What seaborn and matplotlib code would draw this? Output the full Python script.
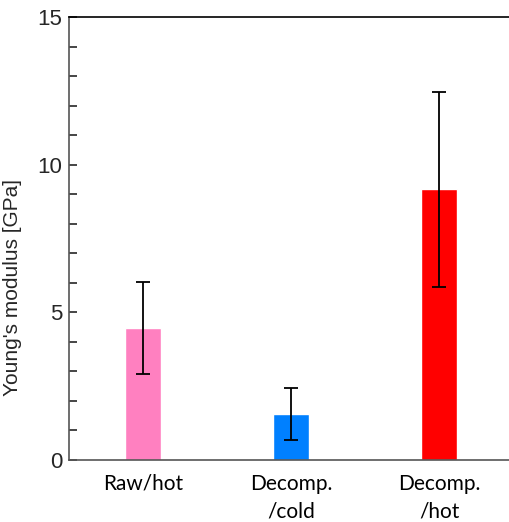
import numpy as np
import seaborn as sns
import matplotlib.pyplot as plt
from matplotlib.ticker import MultipleLocator

# === Data ===
categories = ["Raw/hot", "Decomp.\n/cold", "Decomp.\n/hot"]
modulus = [4.47, 1.55, 9.17]
modulus_err = [1.56, 0.88, 3.30]
bar_colors = ["#FF80C0", "#0080FF", "#FF0000"]

sns.set_style("ticks")
plt.rcParams["font.family"] = ["Liberation Sans", "DejaVu Sans"]

fig = plt.figure(figsize=(5.09, 5.22), dpi=100)
ax = fig.add_axes([69 / 509, 62 / 522, 447 / 509, 443 / 522])

sns.barplot(x=categories, y=modulus, hue=categories, palette=bar_colors,
            width=0.245, legend=False, saturation=1, ax=ax)
ax.errorbar(np.arange(len(categories)), modulus, yerr=modulus_err, fmt="none",
            ecolor="black", elinewidth=1.3, capsize=4.8, capthick=1.3)

# === Axes styling ===
ax.set_xlim(-0.5, 2.52)
ax.set_ylim(0, 15)
ax.yaxis.set_major_locator(MultipleLocator(5))
ax.yaxis.set_minor_locator(MultipleLocator(1))
ax.tick_params(axis="y", which="both", direction="in", length=6, width=1.2,
               labelsize=16, pad=5, right=False)
ax.tick_params(axis="x", length=0, pad=10)
for lbl in ax.get_yticklabels():
    lbl.set_fontfamily(["Liberation Sans", "DejaVu Sans"])
for lbl in ax.get_xticklabels():
    lbl.set_fontfamily(["Lato", "DejaVu Sans"])
    lbl.set_fontsize(15)
    lbl.set_linespacing(1.45)
    lbl.set_verticalalignment("top")
    lbl.set_color("black")

ax.set_ylabel("Young's modulus [GPa]", fontsize=15,
              family=["Liberation Sans", "DejaVu Sans"])
ax.yaxis.set_label_coords(-47 / 447, 0.39)
for side in ["left", "bottom", "top", "right"]:
    ax.spines[side].set_visible(True)
    ax.spines[side].set_linewidth(1.2)
ax.spines["left"].set_color("#555555")
ax.spines["bottom"].set_color("#555555")
ax.spines["top"].set_color("black")

plt.savefig("out.png", dpi=100)
